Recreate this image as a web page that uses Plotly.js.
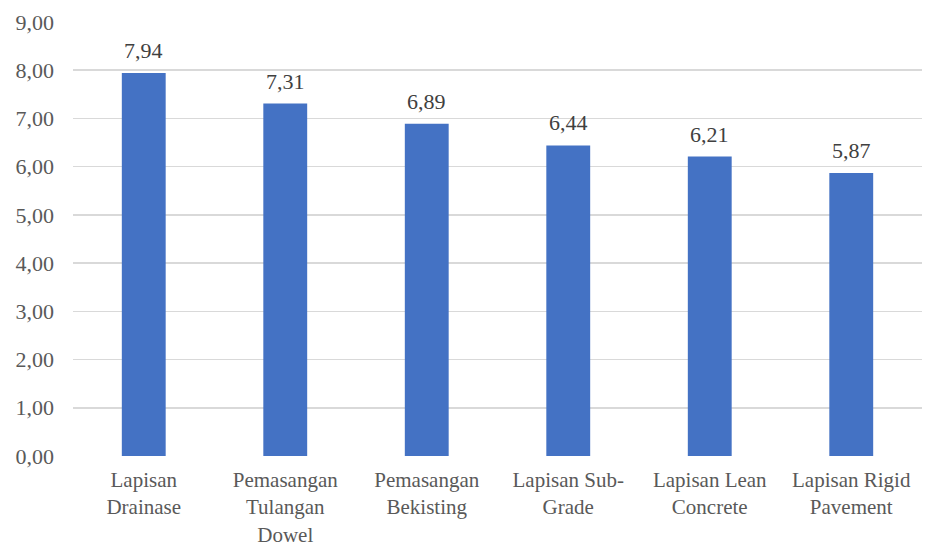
<!DOCTYPE html>
<html>
<head>
<meta charset="utf-8">
<script src="https://cdn.plot.ly/plotly-3.0.1.min.js"></script>
<style>html,body{margin:0;padding:0;background:#fff;}#chart{width:925px;height:549px;}</style>
</head>
<body>
<div id="chart"></div>
<script>
const categories = ["Lapisan<br>Drainase", "Pemasangan<br>Tulangan<br>Dowel", "Pemasangan<br>Bekisting", "Lapisan Sub-<br>Grade", "Lapisan Lean<br>Concrete", "Lapisan Rigid<br>Pavement"];
const values = [7.94, 7.31, 6.89, 6.44, 6.21, 5.87];
const yTicks = [0, 1, 2, 3, 4, 5, 6, 7, 8, 9];

const FONT = "Times New Roman";
const fmt = v => v.toFixed(2).replace('.', ',');

const trace = {
  type: 'bar',
  x: categories,
  y: values,
  marker: {color: '#4472C4'},
  hoverinfo: 'none'
};

const annotations = categories.map((c, i) => ({
  x: c, y: values[i], xref: 'x', yref: 'y',
  text: fmt(values[i]), showarrow: false,
  yanchor: 'bottom', yshift: 8,
  font: {family: FONT, size: 22, color: '#404040'}
}));

const layout = {
  width: 925, height: 549,
  margin: {l: 73, r: 3, t: 22, b: 93},
  paper_bgcolor: '#fff', plot_bgcolor: '#fff',
  separators: ',.',
  bargap: 0.69,
  showlegend: false,
  font: {family: FONT, size: 21, color: '#595959'},
  annotations: annotations,
  xaxis: {
    type: 'category',
    showgrid: false, showline: false, zeroline: false, ticks: '',
    tickfont: {family: FONT, size: 21, color: '#595959'},
    ticklabelstandoff: 9,
    automargin: false
  },
  yaxis: {
    range: [0, 9],
    tickvals: yTicks,
    tickformat: '.2f',
    showgrid: true, gridcolor: '#d9d9d9', gridwidth: 1.5,
    zeroline: false, showline: false, ticks: '',
    tickfont: {family: FONT, size: 22, color: '#595959'},
    ticklabelstandoff: 18,
    automargin: false
  }
};

Plotly.newPlot('chart', [trace], layout, {displayModeBar: false, staticPlot: true});
</script>
</body>
</html>
